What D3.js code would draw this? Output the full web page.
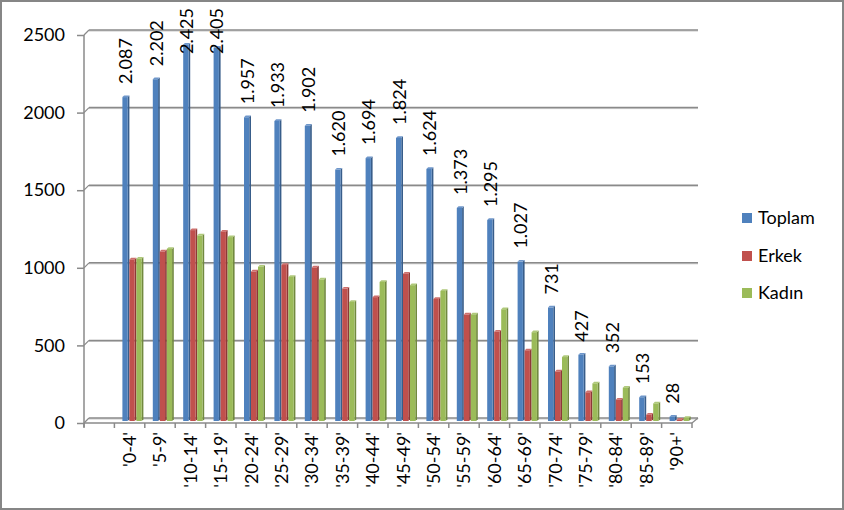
<!DOCTYPE html>
<html>
<head>
<meta charset="utf-8">
<script src="https://cdn.jsdelivr.net/npm/d3@7"></script>
<style>
    body { margin: 0; background: #fff; }
    text { font-family: Lato, "Open Sans", sans-serif; fill: #000; }
</style>
</head>
<body>
<div id="chart"></div>
<script>
// Data
var ageGroups = ["'0-4'", "'5-9'", "'10-14'", "'15-19'", "'20-24'", "'25-29'", "'30-34'", "'35-39'",
    "'40-44'", "'45-49'", "'50-54'", "'55-59'", "'60-64'", "'65-69'", "'70-74'", "'75-79'",
    "'80-84'", "'85-89'", "'90+'"];
var toplam = [2087, 2202, 2425, 2405, 1957, 1933, 1902, 1620, 1694, 1824, 1624, 1373, 1295, 1027, 731, 427, 352, 153, 28];
var erkek = [1041, 1093, 1230, 1220, 963, 1005, 990, 853, 798, 949, 786, 686, 575, 455, 319, 185, 137, 40, 8];
var kadin = [1046, 1109, 1195, 1185, 994, 928, 912, 767, 896, 875, 838, 687, 720, 572, 412, 242, 215, 113, 20];
var seriesNames = ["Toplam", "Erkek", "Kadın"];
var yTicks = [0, 500, 1000, 1500, 2000, 2500];

var colors = ["#4F81BD", "#C0504D", "#9BBB59"];
var sideColors = ["#385D8A", "#8C3836", "#71893F"];
var topColors = ["#6E96CA", "#CE6F6C", "#AFC97A"];

var svgWidth = 844;
var svgHeight = 510;

// front edge of the floor and depth offset of the back wall
var frontLeft = 84;
var frontRight = 692;
var depth = 5;

var svg = d3.select("#chart")
    .append("svg")
    .attr("width", svgWidth)
    .attr("height", svgHeight);

// outer frame
svg.append("rect")
    .attr("x", 1)
    .attr("y", 1)
    .attr("width", svgWidth - 2)
    .attr("height", svgHeight - 2)
    .attr("fill", "#fff")
    .attr("stroke", "#868686")
    .attr("stroke-width", 2);

// scales (y is the back wall)
var yScale = d3.scaleLinear()
    .domain([0, 2500])
    .range([418, 30]);

var step = (frontRight - frontLeft) / (ageGroups.length + 1);
var xScale = d3.scaleBand()
    .domain(ageGroups)
    .range([frontLeft + step, frontRight]);

var xSub = d3.scaleBand()
    .domain(seriesNames)
    .range([8, 29]);

// gridlines on the back wall
var grid = svg.append("g");
yTicks.forEach(function(t) {
    var gy = yScale(t);
    grid.append("line")
        .attr("x1", frontLeft + depth).attr("x2", frontRight + depth + 1)
        .attr("y1", gy + 1).attr("y2", gy + 1)
        .attr("stroke", "#c8c8c8").attr("stroke-width", 1);
    grid.append("line")
        .attr("x1", frontLeft + depth).attr("x2", frontRight + depth + 1)
        .attr("y1", gy).attr("y2", gy)
        .attr("stroke", "#8a8a8a").attr("stroke-width", 1.5);
    // connector from the front axis to the wall
    grid.append("line")
        .attr("x1", frontLeft).attr("y1", gy + depth)
        .attr("x2", frontLeft + depth).attr("y2", gy)
        .attr("stroke", "#8a8a8a").attr("stroke-width", 1.2);
});

// right edge of the floor
svg.append("line")
    .attr("x1", frontRight).attr("y1", yScale(0) + depth)
    .attr("x2", frontRight + depth + 1).attr("y2", yScale(0))
    .attr("stroke", "#8a8a8a").attr("stroke-width", 1.2);

// y axis on the front
var leftAxis = d3.axisLeft(yScale)
    .tickValues(yTicks)
    .tickSize(7)
    .tickSizeOuter(0)
    .tickPadding(12)
    .tickFormat(d3.format("d"));

var yAxis = svg.append("g")
    .attr("transform", `translate(${frontLeft}, ${depth})`)
    .call(leftAxis);
yAxis.select(".domain").attr("stroke", "#8a8a8a").attr("stroke-width", 1.5)
    .attr("d", `M0,${yScale(2500)}V${yScale(0) + 4}`);
yAxis.selectAll(".tick line").attr("stroke", "#8a8a8a").attr("stroke-width", 1.5);
yAxis.selectAll(".tick text")
    .style("font-size", "18px")
    .attr("font-family", null);

// x axis on the front, ticks at every boundary
var xAxisG = svg.append("g");
xAxisG.append("line")
    .attr("x1", frontLeft).attr("x2", frontRight)
    .attr("y1", yScale(0) + depth).attr("y2", yScale(0) + depth)
    .attr("stroke", "#8a8a8a").attr("stroke-width", 1.5);
var boundaries = [frontLeft].concat(ageGroups.map(d => xScale(d))).concat([frontRight]);
xAxisG.selectAll("line.xtick")
    .data(boundaries)
    .enter()
    .append("line")
    .classed("xtick", true)
    .attr("x1", d => d).attr("x2", d => d)
    .attr("y1", yScale(0) + depth).attr("y2", yScale(0) + depth + 5)
    .attr("stroke", "#8a8a8a").attr("stroke-width", 1.5);

xAxisG.selectAll("text.xlabel")
    .data(ageGroups)
    .enter()
    .append("text")
    .classed("xlabel", true)
    .attr("transform", d => `translate(${xScale(d) + xScale.bandwidth() / 2}, 432) rotate(-90)`)
    .attr("text-anchor", "end")
    .attr("dy", "0.35em")
    .style("font-size", "18px")
    .text(d => d);

// bars (flat front, darker side, light top)
var base = yScale(0) + 3;
var unit = (yScale(0) - yScale(2500)) / 2500;
var frontW = 5.3;
var sideW = 1.7;
var seriesData = [toplam, erkek, kadin];

var barsGroup = svg.append("g");
seriesData.forEach(function(values, s) {
    var g = barsGroup.append("g");
    var rows = ageGroups.map((a, i) => ({ age: a, value: values[i] }));

    g.selectAll("polygon.side")
        .data(rows)
        .enter()
        .append("polygon")
        .attr("points", function(d) {
            var x0 = xScale(d.age) + xSub(seriesNames[s]) + frontW;
            var top = base - d.value * unit;
            return [[x0, base], [x0, top], [x0 + sideW, top - sideW], [x0 + sideW, base - sideW]].join(" ");
        })
        .attr("fill", sideColors[s]);

    g.selectAll("polygon.top")
        .data(rows)
        .enter()
        .append("polygon")
        .attr("points", function(d) {
            var x0 = xScale(d.age) + xSub(seriesNames[s]);
            var top = base - d.value * unit;
            return [[x0, top], [x0 + frontW, top], [x0 + frontW + sideW, top - sideW], [x0 + sideW, top - sideW]].join(" ");
        })
        .attr("fill", topColors[s]);

    g.selectAll("rect")
        .data(rows)
        .enter()
        .append("rect")
        .attr("x", d => xScale(d.age) + xSub(seriesNames[s]))
        .attr("y", d => base - d.value * unit)
        .attr("width", frontW)
        .attr("height", d => d.value * unit)
        .attr("fill", colors[s]);
});

// value labels above the Toplam bars, kept inside the frame
var turkish = d3.formatLocale({ decimal: ",", thousands: ".", grouping: [3], currency: ["", "TL"] });
var fmt = turkish.format(",d");

var labelsGroup = svg.append("g");
toplam.forEach(function(v, i) {
    var cx = xScale(ageGroups[i]) + xSub("Toplam") + 3.5;
    var label = labelsGroup.append("text")
        .attr("text-anchor", "start")
        .attr("dy", "0.35em")
        .style("font-size", "18px")
        .text(fmt(v));
    var len = label.node().getComputedTextLength();
    var bottom = Math.max(base - v * unit - 13, 8 + len);
    label.attr("transform", `translate(${cx}, ${bottom}) rotate(-90)`);
});

// legend
var legend = svg.append("g");
var legendY = [218, 256, 293];
seriesNames.forEach(function(name, s) {
    legend.append("rect")
        .attr("x", 742)
        .attr("y", legendY[s] - 5)
        .attr("width", 10)
        .attr("height", 10)
        .attr("fill", colors[s]);
    legend.append("text")
        .attr("x", 758)
        .attr("y", legendY[s])
        .attr("dy", "0.35em")
        .style("font-size", "18px")
        .text(name);
});
</script>
</body>
</html>
